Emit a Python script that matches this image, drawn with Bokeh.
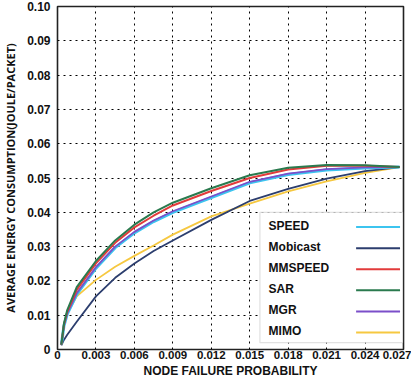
from bokeh.plotting import figure
from bokeh.models import Range1d, FixedTicker, CustomJSTickFormatter, BoxAnnotation
from bokeh.core.properties import value
from bokeh.embed import file_html
from bokeh.resources import INLINE

# ---- data ----
failure_prob = [0.0003, 0.0005, 0.00076, 0.0015, 0.003, 0.0045, 0.006, 0.0075,
                0.009, 0.012, 0.015, 0.018, 0.021, 0.024, 0.0267]
speed = [0.0014, 0.0068, 0.0103, 0.0161, 0.0237, 0.0297, 0.0340, 0.0373,
         0.0400, 0.0443, 0.0486, 0.0510, 0.0523, 0.0529, 0.0532]
mobicast = [0.0012, 0.0028, 0.0043, 0.0081, 0.0155, 0.0209, 0.0251, 0.0287,
            0.0318, 0.0378, 0.0433, 0.0468, 0.0498, 0.0520, 0.0532]
mmspeed = [0.0014, 0.0072, 0.0110, 0.0174, 0.0251, 0.0311, 0.0356, 0.0390,
           0.0420, 0.0462, 0.0500, 0.0525, 0.0536, 0.0536, 0.0532]
sar = [0.0014, 0.0075, 0.0115, 0.0182, 0.0258, 0.0318, 0.0364, 0.0400,
       0.0428, 0.0470, 0.0508, 0.0530, 0.0538, 0.0537, 0.0532]
mgr = [0.0014, 0.0069, 0.0105, 0.0164, 0.0240, 0.0300, 0.0343, 0.0376,
       0.0403, 0.0446, 0.0489, 0.0513, 0.0526, 0.0531, 0.0532]
mimo = [0.0014, 0.0070, 0.0105, 0.0155, 0.0203, 0.0241, 0.0273, 0.0303,
        0.0335, 0.0388, 0.0425, 0.0461, 0.0490, 0.0515, 0.0532]

series_names = ["SPEED", "Mobicast", "MMSPEED", "SAR", "MGR", "MIMO"]
series_values = [speed, mobicast, mmspeed, sar, mgr, mimo]
series_colors = ["#3cc4ef", "#2c3e6e", "#e23b3b", "#2a7a4e", "#7b4fc9", "#f6c840"]
series_widths = [3, 1.8, 2, 2, 1.8, 1.8]
draw_order = [5, 1, 0, 4, 2, 3]

x_ticks = [0, 0.003, 0.006, 0.009, 0.012, 0.015, 0.018, 0.021, 0.024, 0.027]
y_ticks = [0, 0.01, 0.02, 0.03, 0.04, 0.05, 0.06, 0.07, 0.08, 0.09, 0.10]

X0, X1 = 0, 0.027
Y0, Y1 = 0, 0.1

FONT = "Liberation Sans"

p = figure(width=411, height=384, x_range=Range1d(X0, X1), y_range=Range1d(Y0, Y1),
           output_backend="svg", toolbar_location=None,
           min_border_left=52, min_border_right=8, min_border_top=6, min_border_bottom=35)
p.outline_line_color = "#222222"
p.outline_line_width = 1.6

p.xaxis.ticker = FixedTicker(ticks=x_ticks)
p.yaxis.ticker = FixedTicker(ticks=y_ticks)
p.xaxis.formatter = CustomJSTickFormatter(code="return tick == 0 ? '0' : tick.toFixed(3);")
p.yaxis.formatter = CustomJSTickFormatter(code="return tick == 0 ? '0' : tick.toFixed(2);")
for ax in (p.xaxis[0], p.yaxis[0]):
    ax.major_tick_line_color = None
    ax.major_tick_out = 0
    ax.major_tick_in = 0
    ax.minor_tick_line_color = None
    ax.minor_tick_out = 0
    ax.axis_line_color = None
    ax.major_label_text_font = FONT
    ax.major_label_text_font_style = "bold"
    ax.major_label_text_color = "#111111"
    ax.axis_label_text_font_style = "bold"
    ax.axis_label_text_color = "#111111"

p.xaxis.major_label_text_font_size = "11.5px"
p.xaxis.major_label_standoff = 1
p.xaxis.axis_label = "NODE FAILURE PROBABILITY"
p.xaxis.axis_label_text_font = FONT
p.xaxis.axis_label_text_font_size = "12px"
p.xaxis.axis_label_standoff = 2

p.yaxis.major_label_text_font_size = "12px"
p.yaxis.major_label_standoff = 7
p.yaxis.axis_label = "AVERAGE ENERGY CONSUMPTION(JOULE/PACKET)"
p.yaxis.axis_label_text_font = "Open Sans"
p.yaxis.axis_label_text_font_size = "11px"
p.yaxis.axis_label_standoff = 6

p.grid.grid_line_color = "black"
p.grid.grid_line_dash = "dotted"
p.grid.grid_line_width = 1

for i in draw_order:
    p.line(failure_prob, series_values[i], line_color=series_colors[i],
           line_width=series_widths[i])

# ---- legend (text left, line sample right) ----
def fx(f):
    return X0 + f * (X1 - X0)

def fy(f):
    return Y0 + f * (Y1 - Y0)

box_l, box_r, box_t, box_b = 0.585, 0.998, 0.4, 0.02
p.add_layout(BoxAnnotation(left=fx(box_l), right=fx(box_r), top=fy(box_t), bottom=fy(box_b),
                           fill_color="white", fill_alpha=1, line_color="#9a9a9a",
                           line_width=1.2, level="annotation"))
n = len(series_names)
step = 0.0615
text_y = [fy(0.361 - step * k) for k in range(n)]
line_y = [fy(0.357 - step * k) for k in range(n)]
p.text(x=[fx(0.61)] * n, y=text_y, text=series_names, text_font=value(FONT),
       text_font_style="bold", text_font_size="12px", text_color="#111111",
       text_baseline="middle", text_align="left", level="overlay")
p.segment(x0=[fx(0.863)] * n, x1=[fx(0.99)] * n, y0=line_y, y1=line_y,
          line_color=series_colors, line_width=2, level="overlay")

open("out.html", "w").write(file_html(p, INLINE))
